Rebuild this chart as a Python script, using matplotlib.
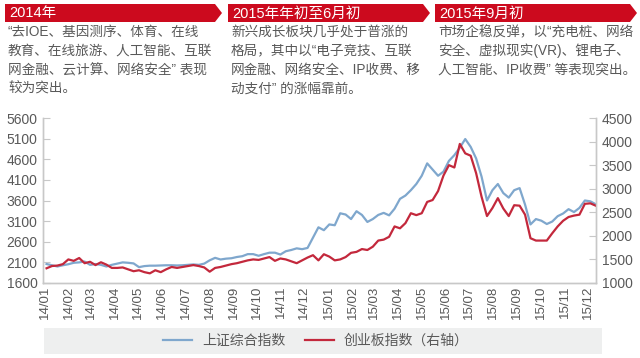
import matplotlib
matplotlib.use("Agg")
import matplotlib.pyplot as plt
import matplotlib.dates as mdates
from matplotlib.patches import Polygon, Rectangle
from matplotlib.lines import Line2D
import pandas as pd

plt.rcParams["font.family"] = ["Liberation Sans", "Noto Sans CJK SC", "DejaVu Sans"]

W, H = 640, 358
GRAY = "#595959"
BLUE = "#7fa7cd"
RED = "#c3283c"

# weekly closes (Fridays from 2014-01-03)
weeks = pd.date_range("2014-01-03", periods=102, freq="W-FRI")
sh_index = [
    2060, 2030, 2000, 2030, 2055, 2090, 2100, 2120, 2040, 2060,
    2040, 2000, 2040, 2070, 2100, 2090, 2075, 1985, 2010, 2020,
    2020, 2025, 2030, 2030, 2025, 2030, 2040, 2050, 2040, 2070,
    2150, 2210, 2170, 2190, 2200, 2230, 2250, 2300, 2300, 2260,
    2300, 2335, 2335, 2290, 2370, 2400, 2440, 2420, 2450, 2700,
    2950, 2880, 3020, 3000, 3290, 3260, 3150, 3340, 3250, 3080,
    3150, 3250, 3300, 3240, 3400, 3640, 3720, 3850, 4000, 4200,
    4500, 4350, 4200, 4300, 4560, 4700, 4880, 5090, 4900, 4620,
    4180, 3600, 3850, 4000, 3780, 3670, 3850, 3900, 3500, 3020,
    3150, 3110, 3030, 3090, 3220, 3285, 3390, 3320, 3420, 3600,
    3580, 3510,
]
cyb_index = [
    1312, 1360, 1370, 1400, 1500, 1470, 1530, 1420, 1450, 1380,
    1440, 1390, 1320, 1320, 1330, 1290, 1250, 1270, 1230, 1205,
    1270, 1230, 1290, 1340, 1320, 1340, 1360, 1380, 1360, 1330,
    1240, 1320, 1340, 1370, 1400, 1420, 1450, 1480, 1500, 1490,
    1520, 1550, 1470, 1520, 1500, 1460, 1420, 1480, 1540, 1590,
    1480, 1610, 1560, 1480, 1500, 1550, 1640, 1660, 1720, 1700,
    1770, 1900, 1920, 1980, 2200, 2160, 2270, 2480, 2440, 2480,
    2720, 2760, 2950, 3280, 3500, 3450, 3950, 3750, 3700, 3330,
    2830, 2420, 2590, 2800, 2580, 2420, 2650, 2640, 2450, 1950,
    1900, 1900, 1900, 2055, 2200, 2320, 2400, 2430, 2450, 2680,
    2690, 2640,
]

banner_titles = ["2014年", "2015年年初至6月初", "2015年9月初"]
banner_texts = [
    ["“去IOE、基因测序、体育、在线",
     "教育、在线旅游、人工智能、互联",
     "网金融、云计算、网络安全” 表现",
     "较为突出。"],
    ["新兴成长板块几乎处于普涨的",
     "格局，其中以“电子竞技、互联",
     "网金融、网络安全、IP收费、移",
     "动支付” 的涨幅靠前。"],
    ["市场企稳反弹，以“充电桩、网络",
     "安全、虚拟现实(VR)、锂电子、",
     "人工智能、IP收费” 等表现突出。"],
]


def fx(px):
    return px / W


def fy(py):
    return 1 - py / H


fig = plt.figure(figsize=(W / 100, H / 100), dpi=100)

# header banners
banner_x = [(5, 222), (228, 430), (435, 637)]
for (x0, x1), title, lines in zip(banner_x, banner_titles, banner_texts):
    y0, y1 = 4, 22
    pts = [(x0, y0), (x1 - 7, y0), (x1, (y0 + y1) / 2), (x1 - 7, y1), (x0, y1)]
    fig.patches.append(Polygon([(fx(a), fy(b)) for a, b in pts], closed=True,
                               transform=fig.transFigure, facecolor="#cc0a1e",
                               edgecolor="none"))
    fig.text(fx(x0 + 4), fy((y0 + y1) / 2 + 0.5), title, color="white",
             fontsize=10.5, va="center", ha="left")
    for i, line in enumerate(lines):
        fig.text(fx(x0 + 3), fy(32 + 19 * i), line, color=GRAY,
                 fontsize=9.8, va="center", ha="left")

# main chart
ax = fig.add_axes([fx(43), fy(283), fx(596) - fx(43), (283 - 118) / H])
ax.plot(weeks, sh_index, color=BLUE, lw=1.6)
ax.set_ylim(1600, 5600)
ax.set_yticks(range(1600, 5601, 500))
ax.set_xlim(pd.Timestamp("2013-12-29 10:00"), pd.Timestamp("2015-12-11 08:00"))
ax.xaxis.set_major_locator(mdates.MonthLocator())
ax.xaxis.set_major_formatter(mdates.DateFormatter("%y/%m"))

ax2 = ax.twinx()
ax2.plot(weeks, cyb_index, color=RED, lw=1.6)
ax2.set_ylim(1000, 4500)
ax2.set_yticks(range(1000, 4501, 500))

for a in (ax, ax2):
    for s in a.spines.values():
        s.set_color("#c8c8c8")
        s.set_linewidth(1)
    a.spines["top"].set_visible(False)
    a.tick_params(axis="y", direction="in", length=5, color="#c8c8c8",
                  labelsize=10, labelcolor=GRAY, pad=4)
    a.tick_params(axis="x", length=0, labelsize=9.5, labelcolor=GRAY,
                  labelrotation=90, pad=2)

# legend band
fig.patches.append(Rectangle((fx(44), fy(354)), fx(602) - fx(44), (354 - 328) / H,
                             transform=fig.transFigure, facecolor="#eeefef",
                             edgecolor="none"))
handles = [Line2D([], [], color=BLUE, lw=1.6), Line2D([], [], color=RED, lw=1.6)]
fig.legend(handles, ["上证综合指数", "创业板指数（右轴）"], ncol=2, frameon=False,
           loc="center", bbox_to_anchor=(fx(316), fy(341)), fontsize=10,
           labelcolor=GRAY, handlelength=2.1, handletextpad=0.7,
           columnspacing=1.4)

fig.savefig("out.png", dpi=100)
